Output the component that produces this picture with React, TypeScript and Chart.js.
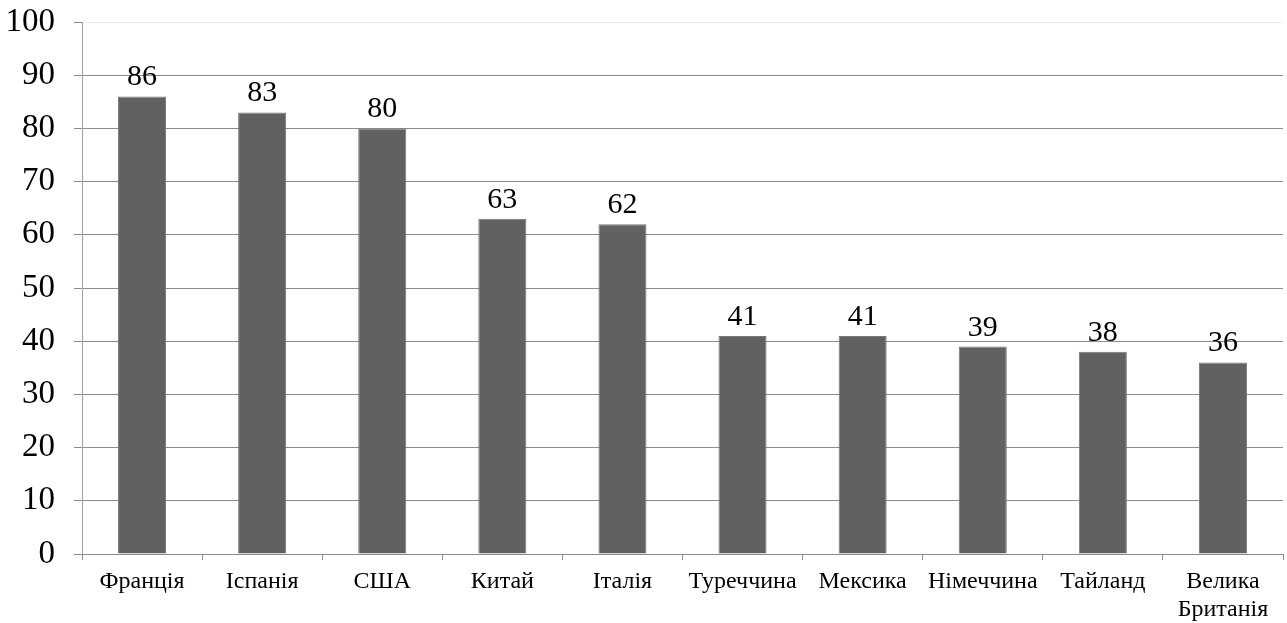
import React, { useEffect, useRef } from "react";
import { Chart, registerables } from "chart.js";

Chart.register(...registerables);

const categories: (string | string[])[] = [
  "Франція",
  "Іспанія",
  "США",
  "Китай",
  "Італія",
  "Туреччина",
  "Мексика",
  "Німеччина",
  "Тайланд",
  ["Велика", "Британія"],
];
const values = [86, 83, 80, 63, 62, 41, 41, 39, 38, 36];
const yTicks = [0, 10, 20, 30, 40, 50, 60, 70, 80, 90, 100];

const FONT = "'Liberation Serif', 'Times New Roman', serif";

const labelPlugin = {
  id: "barLabels",
  afterDatasetsDraw(chart: any) {
    const ctx = chart.ctx;
    const meta = chart.getDatasetMeta(0);
    ctx.save();
    ctx.font = `30px ${FONT}`;
    ctx.fillStyle = "#000";
    ctx.textAlign = "center";
    ctx.textBaseline = "alphabetic";
    meta.data.forEach((el: any, i: number) => {
      ctx.fillText(String(values[i]), el.x, el.y - 11);
    });
    ctx.restore();
  },
};

export default function App() {
  const ref = useRef<HTMLCanvasElement>(null);
  useEffect(() => {
    document.body.style.margin = "0";
    const chart = new Chart(ref.current!, {
      type: "bar",
      data: {
        labels: categories,
        datasets: [
          {
            data: values,
            backgroundColor: "#616161",
            borderColor: "#777",
            borderWidth: 1,
            barPercentage: 0.4,
            categoryPercentage: 1,
          },
        ],
      },
      options: {
        animation: false,
        responsive: false,
        maintainAspectRatio: false,
        layout: { padding: { top: 22, right: 4, left: 0, bottom: 0 } },
        plugins: { legend: { display: false }, tooltip: { enabled: false } },
        scales: {
          x: {
            offset: true,
            grid: {
              drawOnChartArea: false,
              drawTicks: true,
              tickLength: 6,
              color: "#8c8c8c",
              offset: true,
            },
            border: { color: "#8c8c8c" },
            ticks: {
              font: { family: FONT, size: 24, lineHeight: 1.15 },
              color: "#000",
              maxRotation: 0,
              autoSkip: false,
              padding: 8,
            },
            afterFit(scale: any) {
              scale.height = 69;
              scale.paddingLeft = 0;
              scale.paddingRight = 0;
            },
          },
          y: {
            min: 0,
            max: 100,
            afterBuildTicks(scale: any) {
              scale.ticks = yTicks.map((v) => ({ value: v }));
            },
            grid: {
              color: (c: any) => (c.tick && c.tick.value === 100 ? "#ececec" : "#8c8c8c"),
              tickLength: 8,
              tickColor: "#8c8c8c",
            },
            border: { color: "#a0a0a0" },
            ticks: {
              font: { family: FONT, size: 33 },
              color: "#000",
              padding: 19,
            },
            afterFit(scale: any) {
              scale.width = 82;
              scale.paddingTop = 0;
              scale.paddingBottom = 0;
            },
          },
        },
      },
      plugins: [labelPlugin],
    });
    return () => chart.destroy();
  }, []);
  return <canvas ref={ref} width={1287} height={623} style={{ display: "block" }} />;
}
